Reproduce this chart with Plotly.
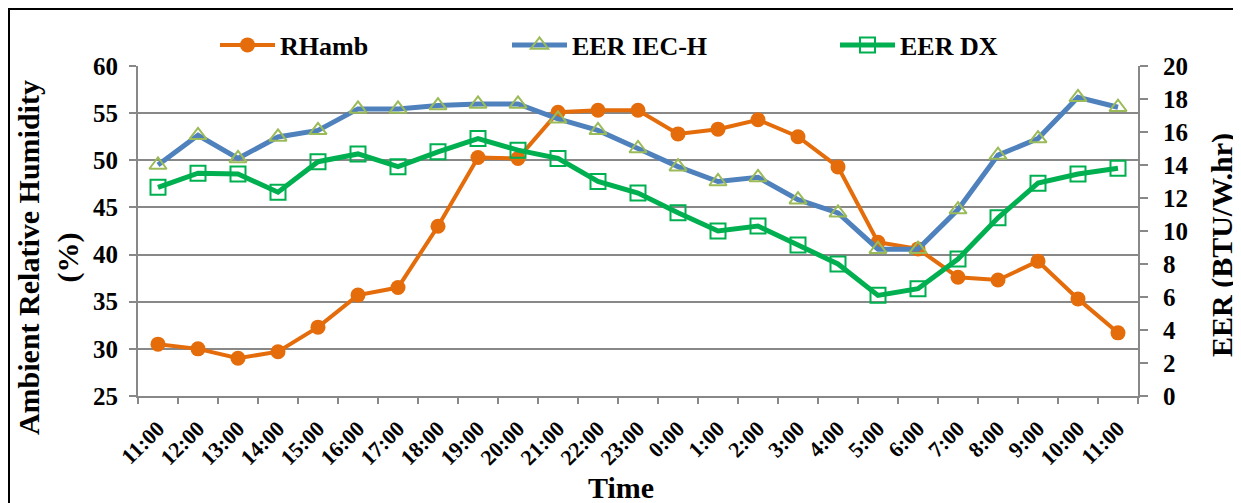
import plotly.graph_objects as go

times = ["11:00", "12:00", "13:00", "14:00", "15:00", "16:00", "17:00", "18:00",
         "19:00", "20:00", "21:00", "22:00", "23:00", "0:00", "1:00", "2:00",
         "3:00", "4:00", "5:00", "6:00", "7:00", "8:00", "9:00", "10:00", "11:00"]

rh_amb = [30.5, 30.0, 29.0, 29.7, 32.3, 35.7, 36.5, 43.0, 50.3, 50.2, 55.1, 55.3,
          55.3, 52.8, 53.3, 54.3, 52.5, 49.3, 41.3, 40.6, 37.6, 37.3, 39.3, 35.3, 31.7]

eer_iec_h = [14.0, 15.8, 14.4, 15.7, 16.1, 17.4, 17.4, 17.6, 17.7, 17.7, 16.8, 16.1,
             15.0, 13.9, 13.0, 13.25, 11.9, 11.1, 8.9, 8.9, 11.3, 14.6, 15.6, 18.1, 17.5]

eer_dx = [12.65, 13.5, 13.45, 12.35, 14.2, 14.67, 13.9, 14.8, 15.6, 14.9, 14.4, 13.0,
          12.3, 11.1, 10.0, 10.3, 9.15, 8.0, 6.1, 6.5, 8.3, 10.8, 12.9, 13.45, 13.8]

xs = list(range(len(times)))

FONT = "Liberation Serif"
GRAY = "#888888"

fig = go.Figure()

fig.add_trace(go.Scatter(
    x=xs, y=rh_amb, name="<b>RHamb</b>", mode="lines+markers",
    line=dict(color="#E46C0A", width=4),
    marker=dict(symbol="circle", size=15, color="#E46C0A"),
    legend="legend", showlegend=True,
))
fig.add_trace(go.Scatter(
    x=xs, y=eer_iec_h, name="<b>EER IEC-H</b>", mode="lines+markers",
    line=dict(color="#4F81BD", width=5),
    marker=dict(symbol="triangle-up-open", size=15, color="#9BBB59",
                line=dict(width=2, color="#9BBB59")),
    yaxis="y2", legend="legend2", showlegend=True,
))
fig.add_trace(go.Scatter(
    x=xs, y=eer_dx, name="<b>EER DX</b>", mode="lines+markers",
    line=dict(color="#00B050", width=5),
    marker=dict(symbol="square-open", size=15, color="#00B050",
                line=dict(width=2, color="#00B050")),
    yaxis="y2", legend="legend3", showlegend=True,
))

leg_common = dict(orientation="h", yanchor="middle", y=1.0636, xanchor="left",
                  font=dict(family=FONT, size=26, color="black"),
                  bgcolor="rgba(0,0,0,0)", itemwidth=55, visible=True)

fig.update_layout(
    width=1241, height=503,
    # the page body adds an 8px offset, so the margins are shifted by 8px
    margin=dict(l=130, r=111, t=58, b=115),
    showlegend=True,
    paper_bgcolor="white", plot_bgcolor="white",
    font=dict(family=FONT, color="black"),
    legend=dict(x=0.077, **leg_common),
    legend2=dict(x=0.369, **leg_common),
    legend3=dict(x=0.697, **leg_common),
    xaxis=dict(
        range=[-0.5, 24.5], tickmode="array", tickvals=xs,
        ticktext=[f"<b>{t}</b>" for t in times],
        tickangle=-45, ticks="outside", ticklen=9, tickcolor="rgba(0,0,0,0)",
        tickfont=dict(family=FONT, size=22, color="black"),
        showgrid=False, zeroline=False,
        showline=True, linecolor=GRAY, linewidth=2,
        minor=dict(tickmode="array", tickvals=[i - 0.5 for i in range(26)],
                   ticks="outside", ticklen=6, tickwidth=2, tickcolor=GRAY,
                   showgrid=False),
    ),
    yaxis=dict(
        range=[25, 60], tickmode="linear", tick0=25, dtick=5,
        ticks="outside", ticklen=7, tickwidth=2, tickcolor=GRAY,
        ticklabelstandoff=6,
        tickfont=dict(family=FONT, size=25, color="black"),
        tickprefix="<b>", ticksuffix="</b>",
        showgrid=True, gridcolor=GRAY, gridwidth=2,
        zeroline=False, showline=True, linecolor=GRAY, linewidth=2,
    ),
    yaxis2=dict(
        range=[0, 20], tickmode="linear", tick0=0, dtick=2,
        overlaying="y", side="right",
        ticks="outside", ticklen=8, tickwidth=2, tickcolor=GRAY,
        ticklabelstandoff=10,
        tickfont=dict(family=FONT, size=25, color="black"),
        tickprefix="<b>", ticksuffix="</b>",
        showgrid=False, zeroline=False,
        showline=True, linecolor=GRAY, linewidth=2,
    ),
    annotations=[
        dict(text="<b>Ambient Relative Humidity<br>(%)</b>", xref="paper", yref="paper",
             x=-0.09, y=0.418, xanchor="center", yanchor="middle", textangle=-90,
             showarrow=False, font=dict(family=FONT, size=30, color="black")),
        dict(text="<b>EER (BTU/W.hr)</b>", xref="paper", yref="paper",
             x=1.084, y=0.4576, xanchor="center", yanchor="middle", textangle=-90,
             showarrow=False, font=dict(family=FONT, size=30, color="black")),
        dict(text="<b>Time</b>", xref="paper", yref="paper",
             x=0.483, y=-0.276, xanchor="center", yanchor="middle",
             showarrow=False, font=dict(family=FONT, size=30, color="black")),
    ],
    shapes=[
        dict(type="rect", xref="paper", yref="paper",
             x0=-0.129, x1=1.13, y0=-0.40, y1=1.1727,
             line=dict(color="black", width=2), fillcolor="rgba(0,0,0,0)", layer="below"),
    ],
)

fig.write_html("out.html")
